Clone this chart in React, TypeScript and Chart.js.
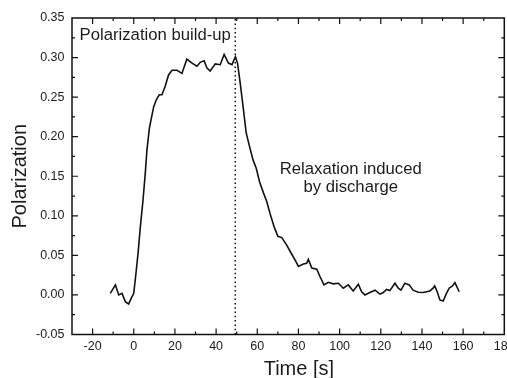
import { useEffect, useRef } from 'react';
import { Chart, registerables } from 'chart.js';

Chart.register(...registerables);

// ---- data ----
const TIME = [
  -11.4, -8.9, -7.3, -5.7, -4.1, -2.5, -1.2, 0, 1.1, 2.1,
  3.2, 4.5, 5.6, 6.4, 7.6, 8.9, 9.7, 11, 12.4, 13.7,
  15.3, 16.9, 18.6, 21, 23.4, 25.8, 28.3, 30.7, 32.3, 34.2,
  35.5, 37.1, 39.6, 42, 43.9, 46, 47.7, 49.4, 50.4, 51.7,
  53.3, 54.6, 56.2, 57.9, 59.5, 61.1, 63, 64.6, 66.2, 68.2,
  70, 71.9, 74.3, 76.4, 78.4, 80, 82.4, 84, 84.8, 86.5,
  88.9, 90.5, 92.4, 94.5, 96.9, 99.4, 101.8, 104.2, 106.6, 109.1,
  110.7, 112.3, 114.7, 117.2, 119.6, 121.2, 122.8, 124.4, 126.9, 128.5,
  129.8, 131.7, 133.8, 135.7, 138.2, 140.6, 143.8, 145.4, 146.2, 147.4,
  148.7, 150.3, 151.9, 153.2, 154.8, 156, 158.1,
];
const POLARIZATION = [
  0.002, 0.0127, 0.0, 0.002, -0.0085, -0.0114, -0.004, 0.002, 0.028, 0.053,
  0.086, 0.12, 0.154, 0.183, 0.211, 0.228, 0.238, 0.247, 0.253, 0.253,
  0.264, 0.278, 0.284, 0.284, 0.28, 0.298, 0.293, 0.289, 0.294, 0.296,
  0.287, 0.283, 0.292, 0.291, 0.304, 0.293, 0.291, 0.301, 0.293, 0.268,
  0.234, 0.205, 0.188, 0.171, 0.16, 0.143, 0.129, 0.118, 0.103, 0.086,
  0.074, 0.0725, 0.063, 0.053, 0.044, 0.036, 0.039, 0.04, 0.045, 0.034,
  0.0325, 0.023, 0.0127, 0.016, 0.014, 0.0148, 0.0085, 0.0127, 0.005, 0.0135,
  0.004, 0.0, 0.003, 0.006, 0.001, 0.003, 0.007, 0.0055, 0.0148, 0.0085,
  0.006, 0.0148, 0.0127, 0.006, 0.0034, 0.003, 0.005, 0.0085, 0.0114, 0.004,
  -0.0063, -0.0076, 0.002, 0.0085, 0.0114, 0.0156, 0.004,
];
const DISCHARGE_TIME = 49.3;

const X_MIN = -30;
const X_MAX = 180;
const Y_MIN = -0.05;
const Y_MAX = 0.35;
const X_TICKS = [-20, 0, 20, 40, 60, 80, 100, 120, 140, 160, 180];
const X_MINOR = [-10, 10, 30, 50, 70, 90, 110, 130, 150, 170];
const Y_TICKS = [-0.05, 0, 0.05, 0.1, 0.15, 0.2, 0.25, 0.3, 0.35];
const Y_MINOR = [-0.025, 0.025, 0.075, 0.125, 0.175, 0.225, 0.275, 0.325];

const X_TITLE = 'Time [s]';
const Y_TITLE = 'Polarization';
const LABEL_BUILDUP = 'Polarization build-up';
const LABEL_RELAX = ['Relaxation induced', 'by discharge'];

const FONT = '"Liberation Sans", Arial, Helvetica, sans-serif';
const INK = '#111111';
const TEXT = '#1c1c1c';

const framePlugin = {
  id: 'frameAndNotes',
  afterDatasetsDraw(chart: any) {
    const { ctx, chartArea: a, scales } = chart;
    const x = scales.x;
    const y = scales.y;
    ctx.save();
    ctx.strokeStyle = INK;
    ctx.lineWidth = 1.5;
    ctx.strokeRect(a.left, a.top, a.right - a.left, a.bottom - a.top);

    ctx.lineWidth = 1.2;
    ctx.beginPath();
    const xt = (vals: number[], len: number) => {
      for (const v of vals) {
        const px = x.getPixelForValue(v);
        if (px <= a.left + 0.5 || px >= a.right - 0.5) continue;
        ctx.moveTo(px, a.bottom);
        ctx.lineTo(px, a.bottom - len);
        ctx.moveTo(px, a.top);
        ctx.lineTo(px, a.top + len);
      }
    };
    const yt = (vals: number[], len: number) => {
      for (const v of vals) {
        const py = y.getPixelForValue(v);
        if (py <= a.top + 0.5 || py >= a.bottom - 0.5) continue;
        ctx.moveTo(a.left, py);
        ctx.lineTo(a.left + len, py);
        ctx.moveTo(a.right, py);
        ctx.lineTo(a.right - len, py);
      }
    };
    xt(X_TICKS, 6);
    xt(X_MINOR, 3);
    yt(Y_TICKS, 6);
    yt(Y_MINOR, 3);
    ctx.stroke();

    ctx.fillStyle = TEXT;
    ctx.font = `16.7px ${FONT}`;
    ctx.textBaseline = 'middle';
    ctx.textAlign = 'left';
    ctx.fillText(LABEL_BUILDUP, x.getPixelForValue(-26.3), y.getPixelForValue(0.3278));
    ctx.textAlign = 'center';
    ctx.fillText(LABEL_RELAX[0], x.getPixelForValue(105.4), y.getPixelForValue(0.1586));
    ctx.fillText(LABEL_RELAX[1], x.getPixelForValue(105.4), y.getPixelForValue(0.1354));

    ctx.font = `20px ${FONT}`;
    ctx.textBaseline = 'alphabetic';
    ctx.fillText(X_TITLE, x.getPixelForValue(80.2), a.bottom + 40.5);
    ctx.restore();
  },
};

export default function App() {
  const ref = useRef<HTMLCanvasElement | null>(null);

  useEffect(() => {
    document.body.style.margin = '0';
    if (!ref.current) return;
    const chart = new Chart(ref.current, {
      type: 'line',
      data: {
        datasets: [
          {
            data: TIME.map((t, i) => ({ x: t, y: POLARIZATION[i] })),
            borderColor: INK,
            borderWidth: 1.6,
            pointRadius: 0,
            tension: 0,
            fill: false,
          },
          {
            data: [
              { x: DISCHARGE_TIME, y: Y_MIN },
              { x: DISCHARGE_TIME, y: Y_MAX },
            ],
            borderColor: INK,
            borderWidth: 1.5,
            borderDash: [1.5, 2.8],
            pointRadius: 0,
            fill: false,
          },
        ],
      },
      options: {
        animation: false,
        responsive: true,
        maintainAspectRatio: false,
        events: [],
        layout: {
          autoPadding: false,
          padding: { left: 0, right: 2.7, top: 18, bottom: 0 },
        },
        plugins: {
          legend: { display: false },
          tooltip: { enabled: false },
        },
        scales: {
          x: {
            type: 'linear',
            min: X_MIN,
            max: X_MAX,
            afterBuildTicks: (s: any) => {
              s.ticks = X_TICKS.map((v) => ({ value: v }));
            },
            afterFit: (s: any) => {
              s.height = 43.5;
              s.paddingLeft = 0;
              s.paddingRight = 0;
            },
            grid: { display: false, drawTicks: false },
            border: { display: false },
            ticks: {
              autoSkip: false,
              maxRotation: 0,
              padding: 5,
              color: TEXT,
              font: { family: FONT, size: 12.5 },
              callback: (v: any) => String(v),
            },
          },
          y: {
            type: 'linear',
            min: Y_MIN,
            max: Y_MAX,
            afterBuildTicks: (s: any) => {
              s.ticks = Y_TICKS.map((v) => ({ value: v }));
            },
            afterFit: (s: any) => {
              s.width = 72;
              s.paddingTop = 0;
              s.paddingBottom = 0;
            },
            grid: { display: false, drawTicks: false },
            border: { display: false },
            ticks: {
              autoSkip: false,
              padding: 7.5,
              color: TEXT,
              font: { family: FONT, size: 12.5 },
              callback: (v: any) => Number(v).toFixed(2),
            },
            title: {
              display: true,
              text: Y_TITLE,
              color: TEXT,
              font: { family: FONT, size: 20 },
              padding: { top: 8, bottom: 0 },
            },
          },
        },
      },
      plugins: [framePlugin],
    });
    return () => chart.destroy();
  }, []);

  return (
    <div style={{ width: 507, height: 378, position: 'relative', background: '#fff' }}>
      <canvas ref={ref} />
    </div>
  );
}
